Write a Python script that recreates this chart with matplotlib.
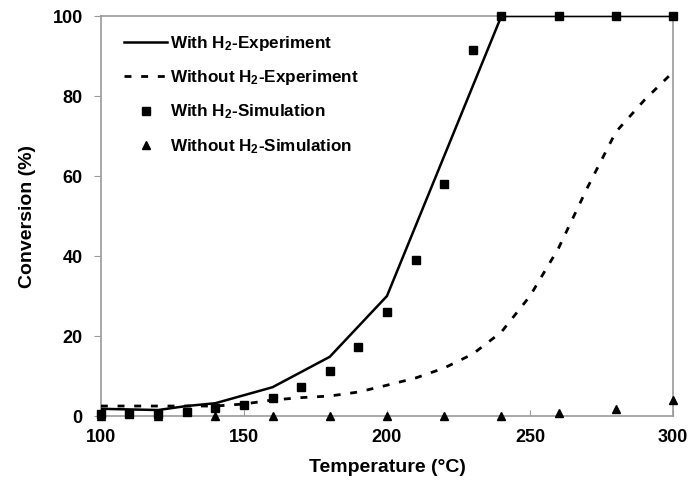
import numpy as np
import matplotlib
matplotlib.use("Agg")
from matplotlib import pyplot as plt

plt.rcParams['font.family'] = ['Liberation Sans', 'DejaVu Sans']
plt.rcParams['font.weight'] = 'bold'
plt.rcParams['mathtext.fontset'] = 'custom'
plt.rcParams['mathtext.rm'] = 'Liberation Sans:bold'
plt.rcParams['mathtext.default'] = 'rm'

# With H2 - experiment (solid line)
exp_h2_t = [100, 120, 130, 140, 160, 180, 200, 240, 260, 280, 300]
exp_h2_conv = [1.8, 1.5, 2.5, 3.2, 7.2, 14.8, 30, 100, 100, 100, 100]

# Without H2 - experiment (dashed line)
exp_noh2_t = [100, 110, 120, 130, 140, 150, 160, 170, 180, 190, 200, 210,
              220, 230, 240, 250, 260, 270, 280, 290, 300]
exp_noh2_conv = [2.5, 2.5, 2.5, 2.5, 2.5, 3.0, 4.0, 4.6, 5.0, 6.0, 7.7, 9.5,
                 12, 15.5, 21, 30, 42, 57, 71, 79, 86]

# With H2 - simulation (squares)
sim_h2_t = [100, 110, 120, 130, 140, 150, 160, 170, 180, 190, 200, 210,
            220, 230, 240, 260, 280, 300]
sim_h2_conv = [0.4, 0.4, 0.4, 1.0, 2.0, 2.8, 4.5, 7.3, 11.3, 17.3, 26, 39,
               58, 91.5, 100, 100, 100, 100]

# Without H2 - simulation (triangles)
sim_noh2_t = [100, 120, 140, 160, 180, 200, 220, 240, 260, 280, 300]
sim_noh2_conv = [0, 0, 0, 0, 0, 0, 0, 0, 0.7, 1.7, 4.0]

fig = plt.figure(figsize=(6.91, 4.86), dpi=100)
ax = fig.add_axes([0.146, 0.144, 0.828, 0.823])

ax.plot(exp_h2_t, exp_h2_conv, color='black', lw=1.8,
        label='With H$_2$-Experiment', zorder=3)
ax.plot(exp_noh2_t, exp_noh2_conv, color='black', lw=2.0,
        linestyle=(0, (2.5, 3.5)), label='Without H$_2$-Experiment', zorder=3)
ax.plot(sim_h2_t, sim_h2_conv, linestyle='none', marker='s', ms=6.2,
        color='black', label='With H$_2$-Simulation', zorder=4, clip_on=False)
ax.plot(sim_noh2_t, sim_noh2_conv, linestyle='none', marker='^', ms=6,
        color='black', label='Without H$_2$-Simulation', zorder=4, clip_on=False)

ax.set_xlim(100, 300)
ax.set_ylim(0, 100)
ax.set_xticks([100, 150, 200, 250, 300])
ax.set_yticks([0, 20, 40, 60, 80, 100])

for s in ax.spines.values():
    s.set_color('#9a9a9a')
    s.set_linewidth(1.2)

ax.tick_params(axis='y', direction='out', length=5, color='#9a9a9a',
               labelsize=13, pad=8)
ax.tick_params(axis='x', direction='in', length=4, color='#9a9a9a',
               labelsize=13, pad=9)

ax.set_xlabel('Temperature (°C)', fontsize=14, fontweight='bold', labelpad=10)
ax.set_ylabel('Conversion (%)', fontsize=14, fontweight='bold', labelpad=12)

ax.legend(loc='upper left', bbox_to_anchor=(0.02, 0.985), frameon=False,
          fontsize=12.3, handlelength=2.5, handletextpad=0.2,
          labelspacing=0.9, borderaxespad=0.3)

fig.savefig('out.png', dpi=100)
